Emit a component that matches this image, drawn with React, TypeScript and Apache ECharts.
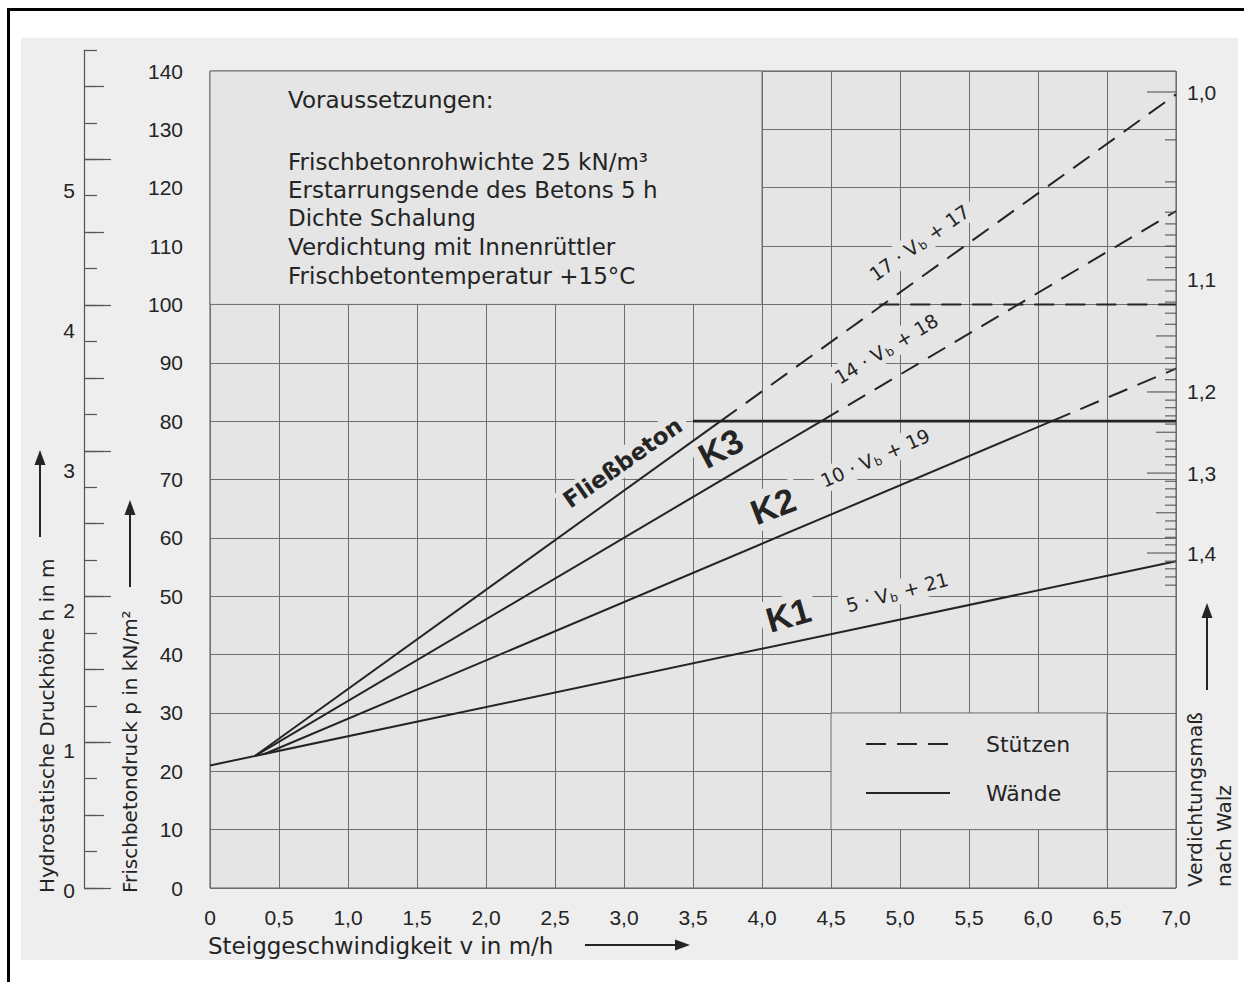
import React, { useEffect, useRef } from 'react';
import * as echarts from 'echarts';

// ---------- data ----------
// Steiggeschwindigkeit v (m/h) axis
const speedMin = 0;
const speedMax = 7;
const speedStep = 0.5;
// Frischbetondruck p (kN/m²) axis
const pressureMin = 0;
const pressureMax = 140;
const pressureStep = 10;

// curves: [v, p]
const k1Walls = [[0, 21], [7, 56]];
const k2Walls = [[0.4, 23], [6.1, 80]];
const k2Columns = [[6.1, 80], [7, 89]];
const k3Walls = [[0.33, 22.7], [4.43, 80]];
const k3Columns = [[4.43, 80], [7, 116]];
const flowWalls = [[0.33, 22.7], [3.7, 80]];
const flowColumns = [[3.7, 80], [7, 136]];
const wallLimit = [[3.5, 80], [7, 80]];
const columnLimit = [[4.85, 100], [7, 100]];

// hydrostatic head h (m)
const hTickMax = 5.75;
const hLabelMax = 6;
const hLabels = ['0', '1', '2', '3', '4', '5'];

// Verdichtungsmaß nach Walz (positions in p units)
const walzMajorP = [136.4, 104.2, 85.0, 71.1, 57.4];
const walzMajorLabels = ['1,0', '1,1', '1,2', '1,3', '1,4'];
const walzMidP = [94.6, 78.1, 64.3];
const walzMinorP = [
  128.2, 121.0, 115.8, 113.8, 111.9, 110.0, 108.1, 106.3,
  102.3, 100.4, 98.5, 96.6, 92.7, 90.8, 88.9, 87.1,
  83.6, 82.3, 80.9, 79.5, 76.6, 75.2, 73.9, 72.5,
  69.7, 68.4, 67.0, 65.6, 62.9, 61.5, 60.1, 58.8,
  56.0, 54.7, 53.3, 51.9,
];

// boxes (v, p)
const conditionsBox = [[0, 100], [4, 140]];
const legendBox = [[4.5, 10], [6.5, 30]];

const conditionsTitle = 'Voraussetzungen:';
const conditions = [
  'Frischbetonrohwichte 25 kN/m³',
  'Erstarrungsende des Betons 5 h',
  'Dichte Schalung',
  'Verdichtung mit Innenrüttler',
  'Frischbetontemperatur +15°C',
];

// curve annotations
const curveLabels = [
  { text: 'Fließbeton', kind: 'name', v: 2.99, p: 72.9, rot: 35 },
  { text: 'K3', kind: 'class', v: 3.7, p: 75.4, rot: 28 },
  { text: 'K2', kind: 'class', v: 4.08, p: 65.5, rot: 21 },
  { text: 'K1', kind: 'class', v: 4.19, p: 46.8, rot: 16 },
  { text: '17 · V{b|b} + 17', kind: 'formula', v: 5.14, p: 110.6, rot: 35 },
  { text: '14 · V{b|b} + 18', kind: 'formula', v: 4.9, p: 92.4, rot: 31 },
  { text: '10 · V{b|b} + 19', kind: 'formula', v: 4.82, p: 73.7, rot: 24 },
  { text: '5 · V{b|b} + 21', kind: 'formula', v: 4.98, p: 50.7, rot: 15 },
];

// ---------- style ----------
const INK = '#242424';
const GRID_LINE = '#6e6e6e';
const PLOT_BG = '#e5e5e5';
const SCAN_BG = '#eeeeee';
const TEXT_FONT = "'DejaVu Sans', 'Liberation Sans', sans-serif";
const NUM_FONT = "'Liberation Sans', Arial, sans-serif";
const PLOT = { left: 210, top: 71, right: 1176, bottom: 888 };
const H_TOP = 50;
const H_LABEL_BOTTOM = 890;
const DASH = [20, 11];

function arrow(x1: number, y1: number, x2: number, y2: number) {
  const dx = x2 - x1;
  const dy = y2 - y1;
  const len = Math.hypot(dx, dy);
  const ux = dx / len;
  const uy = dy / len;
  const headL = 15;
  const headW = 5.5;
  const bx = x2 - ux * headL;
  const by = y2 - uy * headL;
  return [
    { type: 'line', z: 10, shape: { x1, y1, x2: bx, y2: by }, style: { stroke: INK, lineWidth: 2 } },
    {
      type: 'polygon', z: 10,
      shape: { points: [[x2, y2], [bx - uy * headW, by + ux * headW], [bx + uy * headW, by - ux * headW]] },
      style: { fill: INK },
    },
  ];
}

function text(t: string, x: number, y: number, size: number, opts: any = {}) {
  return {
    type: 'text', z: 10, x, y, rotation: opts.rotation || 0,
    style: {
      text: t, fill: INK, fontFamily: opts.font || TEXT_FONT, fontSize: size,
      fontWeight: opts.weight || 'normal',
      textAlign: opts.align || 'left', align: opts.align || 'left',
      textVerticalAlign: 'middle', verticalAlign: 'middle',
    },
  };
}

function curve(name: string, data: number[][], dashed: boolean, width = 2) {
  return {
    type: 'line', name, data, z: 3, symbol: 'none', showSymbol: false, silent: true,
    itemStyle: { color: INK },
    lineStyle: { color: INK, width, type: dashed ? DASH : 'solid' },
  };
}

function buildOption() {
  const plotH = PLOT.bottom - PLOT.top;
  const pxPerMeter = (PLOT.bottom - H_TOP) / hTickMax;
  const hiddenX = (gi: number) => ({ gridIndex: gi, type: 'value', show: false, min: 0, max: 1 });
  const hTickAxis = (gi: number, max: number, interval: number, len: number, line: boolean) => ({
    gridIndex: gi, type: 'value', min: 0, max, interval, position: 'left',
    axisLine: { show: line, lineStyle: { color: '#555', width: 1.2 } },
    axisTick: { show: true, inside: true, length: len, lineStyle: { color: '#555', width: 1.2 } },
    axisLabel: { show: false }, splitLine: { show: false },
  });

  const conditionY = [162, 190, 218, 247, 276];

  const labelData = curveLabels.map((l) => [l.v, l.p]);
  const walzData = [
    ...walzMajorP.map((p, i) => [speedMax, p, 2, i]),
    ...walzMidP.map((p, i) => [speedMax, p, 1, i]),
    ...walzMinorP.map((p, i) => [speedMax, p, 0, i]),
  ];

  return {
    animation: false,
    grid: [
      {
        left: PLOT.left, top: PLOT.top, width: PLOT.right - PLOT.left, height: plotH,
        show: true, backgroundColor: PLOT_BG, borderColor: '#5a5a5a', borderWidth: 1,
      },
      { left: 84, top: H_TOP, width: 1, height: hTickMax * pxPerMeter },
      { left: 84, top: PLOT.bottom - 5.5 * pxPerMeter, width: 1, height: 5.5 * pxPerMeter },
      { left: 84, top: PLOT.bottom - 5 * pxPerMeter, width: 1, height: 5 * pxPerMeter },
      { left: 84, top: H_TOP, width: 1, height: H_LABEL_BOTTOM - H_TOP },
    ],
    xAxis: [
      {
        gridIndex: 0, type: 'value', min: speedMin, max: speedMax, interval: speedStep,
        axisLine: { show: false }, axisTick: { show: false },
        splitLine: { show: true, lineStyle: { color: GRID_LINE, width: 1 } },
        axisLabel: {
          margin: 19, fontFamily: NUM_FONT, fontSize: 21, color: INK,
          formatter: (v: number) => (v === 0 ? '0' : v.toFixed(1).replace('.', ',')),
        },
      },
      hiddenX(1), hiddenX(2), hiddenX(3), hiddenX(4),
    ],
    yAxis: [
      {
        gridIndex: 0, type: 'value', min: pressureMin, max: pressureMax, interval: pressureStep,
        axisLine: { show: false }, axisTick: { show: false },
        splitLine: { show: true, lineStyle: { color: GRID_LINE, width: 1 } },
        axisLabel: { margin: 27, fontFamily: NUM_FONT, fontSize: 21, color: INK },
      },
      hTickAxis(1, hTickMax, 0.25, 13, true),
      hTickAxis(2, 5.5, 0.5, 20, false),
      hTickAxis(3, 5, 1, 27, false),
      {
        gridIndex: 4, type: 'value', min: 0, max: hLabelMax, interval: 1, position: 'left',
        axisLine: { show: false }, axisTick: { show: false }, splitLine: { show: false },
        axisLabel: {
          margin: 9, fontFamily: NUM_FONT, fontSize: 21, color: INK,
          formatter: (v: number) => hLabels[v] ?? '',
        },
      },
    ],
    legend: {
      data: ['Stützen', 'Wände'],
      orient: 'vertical', left: 865, top: 733, padding: 0,
      itemWidth: 84, itemHeight: 14, itemGap: 27, selectedMode: false,
      itemStyle: { opacity: 0 },
      textStyle: { fontFamily: TEXT_FONT, fontSize: 22, color: INK, padding: [0, 0, 0, 31] },
    },
    series: [
      {
        type: 'line', data: [], z: 1, silent: true,
        markArea: {
          silent: true,
          itemStyle: { color: PLOT_BG, borderColor: GRID_LINE, borderWidth: 1 },
          label: { show: false },
          data: [
            [{ coord: conditionsBox[0] }, { coord: conditionsBox[1] }],
            [{ coord: legendBox[0] }, { coord: legendBox[1] }],
          ],
        },
      },
      curve('Wände', k1Walls, false),
      curve('Wände', k2Walls, false),
      curve('Wände', k3Walls, false),
      curve('Wände', flowWalls, false),
      curve('Wände', wallLimit, false, 2.6),
      curve('Stützen', k2Columns, true),
      curve('Stützen', k3Columns, true),
      curve('Stützen', flowColumns, true),
      curve('Stützen', columnLimit, true),
      {
        type: 'custom', z: 2, silent: true, data: labelData,
        encode: { x: 0, y: 1 },
        renderItem: (params: any, api: any) => {
          const l = curveLabels[params.dataIndex];
          const pt = api.coord([api.value(0), api.value(1)]);
          let fontSize = 19;
          let fontWeight: any = 'normal';
          let fontFamily = TEXT_FONT;
          if (l.kind === 'class') { fontSize = 35; fontWeight = 'bold'; fontFamily = NUM_FONT; }
          if (l.kind === 'name') { fontSize = 23; fontWeight = 'bold'; }
          return {
            type: 'text', x: pt[0], y: pt[1], rotation: (l.rot * Math.PI) / 180,
            style: {
              text: l.text, fill: INK, fontSize, fontWeight, fontFamily,
              align: 'center', verticalAlign: 'middle',
              backgroundColor: PLOT_BG, padding: [2, 6],
              rich: { b: { fontSize: 12, fontFamily: TEXT_FONT, fill: INK, verticalAlign: 'bottom', padding: [9, 1, 0, 1] } },
            },
          };
        },
      },
      {
        type: 'custom', z: 4, silent: true, data: walzData, clip: false,
        encode: { x: 0, y: 1 },
        renderItem: (params: any, api: any) => {
          const kind = api.value(2);
          const idx = api.value(3);
          const pt = api.coord([api.value(0), api.value(1)]);
          const len = kind === 2 ? 29 : kind === 1 ? 20 : 11;
          const children: any[] = [
            { type: 'line', shape: { x1: pt[0] - len, y1: pt[1], x2: pt[0], y2: pt[1] }, style: { stroke: '#555', lineWidth: 1.1 } },
          ];
          if (kind === 2) {
            children.push({
              type: 'text', x: pt[0] + 11, y: pt[1],
              style: { text: walzMajorLabels[idx], fill: INK, fontFamily: NUM_FONT, fontSize: 21, align: 'left', verticalAlign: 'middle' },
            });
          }
          return { type: 'group', children };
        },
      },
    ],
    graphic: {
      elements: [
        text(conditionsTitle, 288, 100, 23),
        ...conditions.map((c, i) => text(c, 288, conditionY[i], 23)),
        text('Hydrostatische Druckhöhe h in m', 47, 893, 20, { rotation: Math.PI / 2 }),
        text('Frischbetondruck p in kN/m²', 130, 893, 20, { rotation: Math.PI / 2 }),
        text('Steiggeschwindigkeit v in m/h', 208, 946, 23),
        text('Verdichtungsmaß', 1195, 887, 20, { rotation: Math.PI / 2 }),
        text('nach Walz', 1224, 887, 20, { rotation: Math.PI / 2 }),
        ...arrow(40, 537, 40, 450),
        ...arrow(130, 587, 130, 500),
        ...arrow(585, 945, 690, 945),
        ...arrow(1207, 690, 1207, 603),
      ],
    },
  };
}

export default function App() {
  const ref = useRef<HTMLDivElement>(null);
  useEffect(() => {
    document.body.style.margin = '0';
    const chart = echarts.init(ref.current as HTMLDivElement, null, { renderer: 'svg' });
    chart.setOption(buildOption() as any);
    return () => chart.dispose();
  }, []);
  return (
    <div style={{ position: 'relative', width: 1244, height: 982, background: '#ffffff', overflow: 'hidden' }}>
      <div style={{ position: 'absolute', left: 21, top: 38, width: 1217, height: 922, background: SCAN_BG }} />
      <div style={{ position: 'absolute', left: 7, top: 8, width: 3, height: 974, background: '#000' }} />
      <div style={{ position: 'absolute', left: 7, top: 8, width: 1237, height: 3, background: '#000' }} />
      <div ref={ref} style={{ position: 'absolute', left: 0, top: 0, width: 1244, height: 982 }} />
    </div>
  );
}
